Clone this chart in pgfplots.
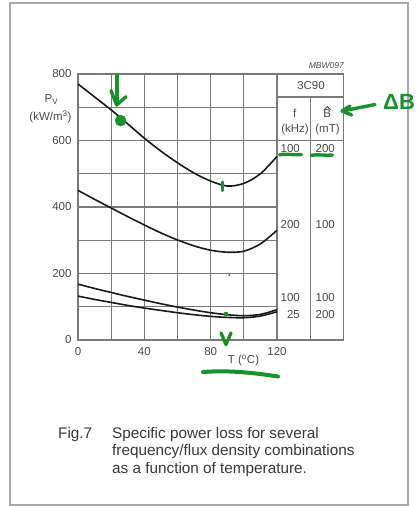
\documentclass[border=0pt]{standalone}
\usepackage{fontspec}
\setmainfont{Liberation Sans}
\usepackage{pgfplots}
\pgfplotsset{compat=1.18}
\definecolor{gridc}{HTML}{7A7A7A}
\definecolor{txt}{HTML}{4A4A4A}
\definecolor{framec}{HTML}{A8A8A8}
\definecolor{pen}{HTML}{17922A}
\newcommand{\lbl}{\fontsize{11.5}{12}\selectfont}
\begin{document}
\begin{tikzpicture}[x=1pt,y=1pt]
\useasboundingbox (0pt,0pt) rectangle (418pt,506pt);
\fill[white] (0pt,0pt) rectangle (418pt,506pt);
\draw[framec,line width=1.6pt] (10pt,503pt) rectangle (408pt,1pt);
\begin{axis}[
  at={(78pt,166pt)}, anchor=south west,
  scale only axis, width=199pt, height=266pt,
  xmin=0, xmax=120, ymin=0, ymax=800,
  clip=false,
  xtick={0,40,80,120}, minor xtick={20,60,100},
  ytick={0,200,400,600,800}, minor ytick={100,300,500,700},
  grid=both,
  major grid style={gridc,line width=1.3pt},
  minor grid style={gridc,line width=1.3pt},
  axis line style={gridc,line width=1.3pt},
  major tick length=0pt, minor tick length=0pt,
  tick label style={font=\lbl,text=txt},
  /pgf/number format/assume math mode=true,
  xticklabel style={yshift=-4pt},
  yticklabel style={xshift=-3pt},
]
% 100 kHz, 200 mT
\addplot[black!90,line width=1.6pt,smooth,no markers] coordinates {
  (0,770)(10,731)(20,692)(30,650)(40,607)(50,568)(60,533)(70,502)(80,478)
  (90,463)(100,471)(110,500)(120,552)};
% 200 kHz, 100 mT
\addplot[black!90,line width=1.6pt,smooth,no markers] coordinates {
  (0,450)(10,423)(20,397)(30,371)(40,346)(50,322)(60,301)(70,283)(80,270)
  (90,264)(100,267)(110,289)(120,330)};
% 100 kHz, 100 mT
\addplot[black!90,line width=1.6pt,smooth,no markers] coordinates {
  (0,168)(10,155)(20,143)(30,131)(40,120)(50,109)(60,99)(70,90)(80,82)
  (90,76)(100,73)(110,77)(120,91)};
% 25 kHz, 200 mT
\addplot[black!90,line width=1.6pt,smooth,no markers] coordinates {
  (0,132)(10,122)(20,113)(30,104)(40,96)(50,89)(60,82)(70,76)(80,71)
  (90,68)(100,67)(110,72)(120,85)};
% hand mark
\addplot[only marks,mark=*,mark size=5.5pt,mark options={fill=pen,draw=pen}]
  coordinates {(25.7,660)};
% table beside the grid
\draw[gridc,line width=1.3pt,line cap=rect]
  (axis cs:120,800) -- (axis cs:160,800) -- (axis cs:160,0) -- (axis cs:120,0);
\draw[gridc,line width=1.3pt] (axis cs:120,731) -- (axis cs:160,731);
\draw[gridc,line width=1.3pt] (axis cs:120,600) -- (axis cs:160,600);
\draw[gridc,line width=1.3pt] (axis cs:140,0) -- (axis cs:140,731);
\end{axis}

% table text
\begin{scope}[every node/.style={font=\lbl,text=txt,inner sep=0pt}]
\node[anchor=base] at (311pt,416pt) {3C90};
\node[anchor=base] at (294.7pt,388pt) {f};
\node[anchor=base] at (295pt,373pt) {(kHz)};
\node[anchor=base] at (327.3pt,388pt) {B};
\node[anchor=base] at (327.5pt,373pt) {(mT)};
\node[anchor=base east] at (300pt,353pt) {100};
\node[anchor=base east] at (335pt,353pt) {200};
\node[anchor=base east] at (300pt,277pt) {200};
\node[anchor=base east] at (335pt,277pt) {100};
\node[anchor=base east] at (300pt,204.3pt) {100};
\node[anchor=base east] at (335pt,204.3pt) {100};
\node[anchor=base east] at (300pt,187pt) {25};
\node[anchor=base east] at (335pt,187pt) {200};
\node[anchor=base] at (51.5pt,403pt) {P\textsubscript{V}};
\node[anchor=base] at (50.5pt,385pt) {(kW/m\textsuperscript{3})};
\node[anchor=base] at (243.5pt,142pt) {T (\textsuperscript{o}C)};
\node[anchor=base east,font=\fontsize{8.5}{9}\selectfont\itshape] at (344pt,437pt) {MBW097};
\end{scope}
\draw[txt,line width=0.8pt] (324pt,396pt) -- (327.3pt,399.5pt) -- (330.7pt,396pt);

% caption
\begin{scope}[every node/.style={font=\fontsize{15.3}{17}\selectfont,text=black!78,inner sep=0pt,anchor=base west}]
\node at (58pt,67.5pt) {Fig.7};
\node at (112pt,67.5pt) {Specific power loss for several};
\node at (112pt,50pt) {frequency/flux density combinations};
\node at (112pt,32.5pt) {as a function of temperature.};
\end{scope}

% green pen marks
\begin{scope}[pen,line width=3.4pt,line cap=round,line join=round]
\draw (117pt,431pt) -- (117pt,403pt);
\draw (111pt,415.3pt) -- (116.7pt,401pt) -- (126pt,409.3pt);
\draw (222.7pt,324pt) -- (222.7pt,315.5pt);
\draw (279.5pt,351.3pt) .. controls (288pt,352.5pt) and (294pt,350.5pt) .. (301.5pt,351.5pt);
\draw (311.5pt,350.7pt) .. controls (320pt,352pt) and (326pt,350pt) .. (332.5pt,351pt);
\draw (221pt,173pt) -- (226pt,161.5pt) -- (231pt,173pt);
\draw[line width=4pt] (203pt,134pt) .. controls (230pt,136pt) and (255pt,133pt) .. (278pt,129.5pt);
\draw (375pt,401.5pt) -- (342.5pt,395pt);
\draw (350pt,400pt) -- (342pt,395pt) -- (351.7pt,391pt);
\fill (226pt,192pt) circle (2.3pt);
\fill (229.3pt,231pt) circle (1.1pt);
\end{scope}
\node[pen,anchor=base west,inner sep=0pt,font=\fontsize{22}{22}\selectfont\bfseries] at (383pt,396pt) {ΔB};
\end{tikzpicture}
\end{document}
